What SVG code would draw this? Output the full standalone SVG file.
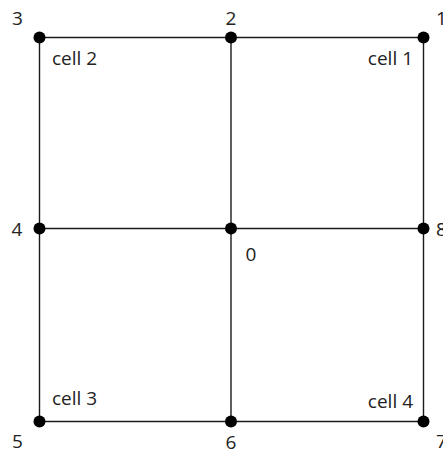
<svg xmlns="http://www.w3.org/2000/svg" width="443" height="451" viewBox="0 0 443 451">
<style>
.ln{stroke:#1a1a1a;stroke-width:1.4;fill:none}
.nd{fill:#000}
text{font-family:"Open Sans","Liberation Sans",sans-serif;font-size:19px;fill:#222}
</style>
<rect width="443" height="451" fill="#fff"/>
<g id="connectors">
<line class="ln" x1="39.5" y1="37.5" x2="423.5" y2="37.5"/>
<line class="ln" x1="39.5" y1="228.5" x2="423.5" y2="228.5"/>
<line class="ln" x1="39.5" y1="421.5" x2="423.5" y2="421.5"/>
<line class="ln" x1="39.5" y1="37.5" x2="39.5" y2="421.5"/>
<line class="ln" x1="231" y1="37.5" x2="231" y2="421.5"/>
<line class="ln" x1="423.5" y1="37.5" x2="423.5" y2="421.5"/>
</g>
<g id="node3"><circle class="nd" cx="39.5" cy="37.5" r="6"/><text x="17.5" y="25" text-anchor="middle">3</text></g>
<g id="node2"><circle class="nd" cx="231" cy="37.5" r="6"/><text x="231" y="25" text-anchor="middle">2</text></g>
<g id="node1"><circle class="nd" cx="423.5" cy="37.5" r="6"/><text x="436" y="25">1</text></g>
<g id="node4"><circle class="nd" cx="39.5" cy="228.5" r="6"/><text x="17" y="236" text-anchor="middle">4</text></g>
<g id="node0"><circle class="nd" cx="231" cy="228.5" r="6"/><text x="251" y="261" text-anchor="middle">0</text></g>
<g id="node8"><circle class="nd" cx="423.5" cy="228.5" r="6"/><text x="436" y="236">8</text></g>
<g id="node5"><circle class="nd" cx="39.5" cy="421.5" r="6"/><text x="17.5" y="448" text-anchor="middle">5</text></g>
<g id="node6"><circle class="nd" cx="231" cy="421.5" r="6"/><text x="231" y="449" text-anchor="middle">6</text></g>
<g id="node7"><circle class="nd" cx="423.5" cy="421.5" r="6"/><text x="436" y="448">7</text></g>
<g id="cells">
<text x="52" y="65">cell 2</text>
<text x="413" y="65" text-anchor="end">cell 1</text>
<text x="52" y="405">cell 3</text>
<text x="413" y="408" text-anchor="end">cell 4</text>
</g>
</svg>
